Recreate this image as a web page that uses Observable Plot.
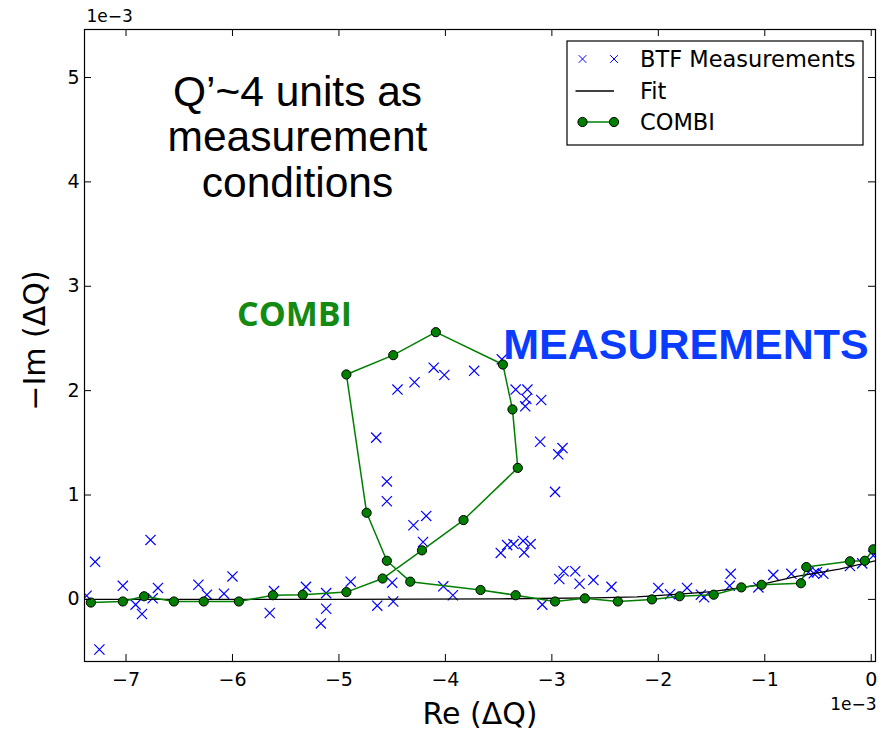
<!DOCTYPE html>
<html>
<head>
<meta charset="utf-8">
<script src="https://cdn.jsdelivr.net/npm/d3@7"></script>
<script src="https://cdn.jsdelivr.net/npm/@observablehq/plot@0.6"></script>
<style>
  body { margin: 0; background: #fff; }
  #chart { width: 892px; height: 730px; }
</style>
</head>
<body>
<div id="chart"></div>
<script>
// Tune-shift plane, values in units of 1e-3
const btfRe = [
  -7.37, -7.29, -7.25, -7.03, -6.91, -6.85, -6.77, -6.75, -6.70, -6.32, -6.24, -6.08, -6.00,
  -5.65, -5.61, -5.31, -5.12, -5.12, -5.17, -4.89, -4.64, -4.49, -4.50, -4.02, -3.93,
  -4.65, -4.55, -4.55, -4.30, -4.18, -4.21, -4.45, -4.29, -4.11, -4.01, -3.73, -3.47,
  -3.34, -3.23, -3.24, -3.25, -3.10, -3.11, -2.90, -2.94, -2.97,
  -3.48, -3.42, -3.36, -3.27, -3.20, -3.26, -3.09, -2.93, -2.89, -2.78, -2.74, -2.61, -2.44,
  -2.00, -1.89, -1.73, -1.60, -1.57, -1.32, -1.33, -1.06, -0.92, -0.75, -0.59, -0.51, -0.45,
  -0.54, -0.20, -0.085, 0.02
];
const btfIm = [
  0.035, 0.36, -0.48, 0.13, -0.05, -0.14, 0.57, 0.01, 0.11, 0.14, 0.045, 0.055, 0.22,
  -0.13, 0.08, 0.12, 0.06, -0.09, -0.23, 0.17, -0.06, -0.02, 0.16, 0.125, 0.04,
  1.55, 1.13, 0.94, 0.71, 0.80, 0.55, 2.01, 2.08, 2.22, 2.15, 2.19, 2.30,
  2.01, 2.01, 1.92, 1.85, 1.91, 1.51, 1.45, 1.39, 1.03,
  0.445, 0.52, 0.53, 0.56, 0.53, 0.45, -0.05, 0.195, 0.27, 0.27, 0.15, 0.185, 0.12,
  0.11, 0.05, 0.11, 0.045, 0.02, 0.245, 0.13, 0.115, 0.235, 0.245, 0.26, 0.26, 0.245,
  0.25, 0.32, 0.345, 0.42
];

const fitRe = [-7.39, -5.0, -3.5, -2.6, -2.2, -1.8, -1.5, -1.2, -1.0, -0.7, -0.3, 0.04];
const fitIm = [0.0, 0.0, 0.005, 0.015, 0.025, 0.05, 0.075, 0.115, 0.15, 0.22, 0.29, 0.37];

const combiRe = [
  -7.33, -7.03, -6.83, -6.55, -6.27, -5.94, -5.62, -5.34, -4.93, -4.59, -4.22, -3.83,
  -3.32, -3.37, -3.46, -4.09, -4.49, -4.93, -4.74, -4.55, -4.33, -3.67, -3.34, -2.97,
  -2.69, -2.38, -2.06, -1.80, -1.48, -1.22, -1.03, -0.66, -0.61, -0.20, -0.06, 0.02
];
const combiIm = [
  -0.03, -0.02, 0.03, -0.02, -0.02, -0.02, 0.04, 0.045, 0.07, 0.20, 0.47, 0.76,
  1.26, 1.82, 2.25, 2.56, 2.34, 2.155, 0.83, 0.37, 0.17, 0.09, 0.04, -0.02,
  0.01, -0.02, 0.0, 0.03, 0.045, 0.115, 0.14, 0.155, 0.31, 0.365, 0.37, 0.48
];

const xTicks = [-7, -6, -5, -4, -3, -2, -1, 0];
const yTicks = [0, 1, 2, 3, 4, 5];
const xDomain = [-7.39, 0.04];
const yDomain = [-0.595, 5.46];

const seriesNames = ["BTF Measurements", "Fit", "COMBI"];
const titleText = "Q’~4 units as\nmeasurement\nconditions";
const combiNote = "COMBI";
const measNote = "MEASUREMENTS";
const xLabel = "Re (ΔQ)";
const yLabel = "−Im (ΔQ)";
const scaleNote = "1e−3";

const btf = btfRe.map((re, i) => ({re, im: btfIm[i]}));
const fit = fitRe.map((re, i) => ({re, im: fitIm[i]}));
const combi = combiRe.map((re, i) => ({re, im: combiIm[i]}));

const W = 892, H = 730;
const mL = 84, mR = 17, mT = 29, mB = 69;
const frameW = W - mL - mR, frameH = H - mT - mB;
const tickLen = 7;

const blue = "#0000ff", green = "#007f00";
const font = "DejaVu Sans";
const intFmt = d3.format("d");

const chart = Plot.plot({
  width: W,
  height: H,
  marginLeft: mL,
  marginRight: mR,
  marginTop: mT,
  marginBottom: mB,
  style: {fontFamily: font, background: "#fff", color: "#000"},
  x: {domain: xDomain},
  y: {domain: yDomain},
  marks: [
    Plot.dot(btf, {x: "re", y: "im", symbol: "times", r: 4.7, stroke: blue, strokeWidth: 1.2, clip: true}),
    Plot.line(fit, {x: "re", y: "im", stroke: "#000", strokeWidth: 1.3, clip: true}),
    Plot.line(combi, {x: "re", y: "im", stroke: green, strokeWidth: 1.5, clip: true}),
    Plot.dot(combi, {x: "re", y: "im", r: 4.6, fill: green, stroke: "#000", strokeWidth: 1, clip: true}),
    // inward ticks on all four sides
    Plot.tickX(xTicks, {x: d => d, insetTop: frameH - tickLen, stroke: "#000"}),
    Plot.tickX(xTicks, {x: d => d, insetBottom: frameH - tickLen, stroke: "#000"}),
    Plot.tickY(yTicks, {y: d => d, insetRight: frameW - tickLen, stroke: "#000"}),
    Plot.tickY(yTicks, {y: d => d, insetLeft: frameW - tickLen, stroke: "#000"}),
    Plot.frame({stroke: "#000", strokeWidth: 1.2}),
    Plot.axisX(xTicks, {tickSize: 0, tickPadding: 11, label: null, fontSize: 19, tickFormat: intFmt}),
    Plot.axisY(yTicks, {tickSize: 0, tickPadding: 5, label: null, fontSize: 19, tickFormat: intFmt}),
    Plot.text([xLabel], {text: d => d, frameAnchor: "bottom", textAnchor: "middle", lineAnchor: "middle",
      dy: 53, fontSize: 30}),
    Plot.text([yLabel], {text: d => d, frameAnchor: "left", textAnchor: "middle", lineAnchor: "middle",
      dx: -49, dy: -5, rotate: -90, fontSize: 30}),
    Plot.text([scaleNote], {text: d => d, frameAnchor: "top-left", textAnchor: "start", lineAnchor: "middle",
      dx: 2, dy: -13, fontSize: 17}),
    Plot.text([scaleNote], {text: d => d, frameAnchor: "bottom-right", textAnchor: "end", lineAnchor: "middle",
      dx: 1, dy: 43, fontSize: 17}),
    Plot.text([titleText], {text: d => d, frameAnchor: "top-left", textAnchor: "middle", lineAnchor: "bottom",
      dx: 213, dy: 167, fontSize: 42.5, lineHeight: 1.06, fontFamily: "Liberation Sans", fill: "#000"}),
    Plot.text([combiNote], {text: d => d, frameAnchor: "top-left", textAnchor: "middle", lineAnchor: "bottom",
      dx: 210, dy: 296, fontSize: 34, fontWeight: "bold", fontFamily: "Open Sans", fill: "#138a13"}),
    Plot.text([measNote], {text: d => d, frameAnchor: "top-left", textAnchor: "middle", lineAnchor: "bottom",
      dx: 601.5, dy: 329, fontSize: 43, fontWeight: "bold", fontFamily: "Liberation Sans", fill: "#0a3cff"})
  ]
});

document.getElementById("chart").appendChild(chart);

// Legend box in the upper right of the axes
const svg = d3.select(chart);
const lg = svg.append("g").attr("font-family", font).attr("font-size", 22.5).attr("text-anchor", "start");
const box = {x: 567, y: 41, w: 296, h: 104};
lg.append("rect").attr("x", box.x).attr("y", box.y).attr("width", box.w).attr("height", box.h)
  .attr("fill", "#fff").attr("stroke", "#000").attr("stroke-width", 1.2);
const rowY = [59, 91, 122];
const symX = [582.5, 614];
const textX = 640;
// BTF crosses
symX.forEach(cx => {
  lg.append("path").attr("d", d3.symbol(d3.symbolTimes, 40)())
    .attr("transform", `translate(${cx},${rowY[0]})`).attr("stroke", blue).attr("fill", "none");
});
// Fit line
lg.append("line").attr("x1", symX[0] - 7).attr("x2", symX[1]).attr("y1", rowY[1]).attr("y2", rowY[1])
  .attr("stroke", "#000").attr("stroke-width", 1.3);
// COMBI line with dots
lg.append("line").attr("x1", symX[0]).attr("x2", symX[1]).attr("y1", rowY[2]).attr("y2", rowY[2])
  .attr("stroke", green).attr("stroke-width", 1.5);
symX.forEach(cx => {
  lg.append("circle").attr("cx", cx).attr("cy", rowY[2]).attr("r", 4.6)
    .attr("fill", green).attr("stroke", "#000");
});
seriesNames.forEach((name, i) => {
  lg.append("text").attr("x", textX).attr("y", rowY[i]).attr("dy", "0.36em").attr("fill", "#000")
    .attr("text-anchor", "start").text(name);
});
</script>
</body>
</html>
